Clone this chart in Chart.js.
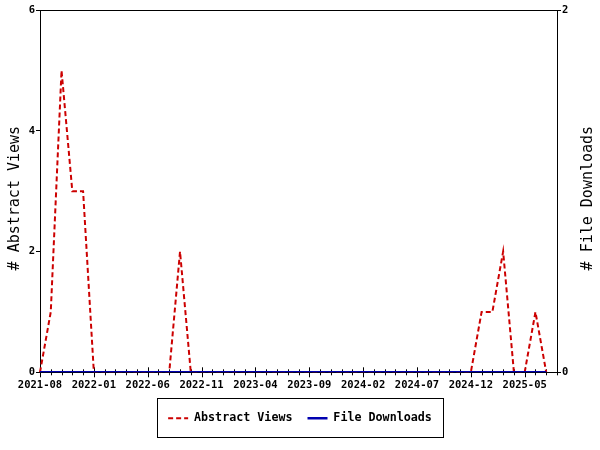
<!DOCTYPE html>
<html>
<head>
<meta charset="utf-8">
<script src="https://cdn.jsdelivr.net/npm/chart.js@4.4.0/dist/chart.umd.min.js"></script>
<style>
  html, body { margin: 0; padding: 0; background: #fff; }
  #wrap { width: 600px; height: 450px; }
</style>
</head>
<body>
<div id="wrap"><canvas id="chart" width="600" height="450"></canvas></div>
<script>
// monthly buckets, 2021-08 .. 2025-08 (axis end)
const months = [
  '2021-08', '2021-09', '2021-10', '2021-11', '2021-12',
  '2022-01', '2022-02', '2022-03', '2022-04', '2022-05',
  '2022-06', '2022-07', '2022-08', '2022-09', '2022-10',
  '2022-11', '2022-12', '2023-01', '2023-02', '2023-03',
  '2023-04', '2023-05', '2023-06', '2023-07', '2023-08',
  '2023-09', '2023-10', '2023-11', '2023-12', '2024-01',
  '2024-02', '2024-03', '2024-04', '2024-05', '2024-06',
  '2024-07', '2024-08', '2024-09', '2024-10', '2024-11',
  '2024-12', '2025-01', '2025-02', '2025-03', '2025-04',
  '2025-05', '2025-06', '2025-07', '2025-08'
];
const tickLabels = ['2021-08', '2022-01', '2022-06', '2022-11', '2023-04',
  '2023-09', '2024-02', '2024-07', '2024-12', '2025-05'];

const abstractViews = [
  0, 1, 5, 3, 3,
  0, 0, 0, 0, 0,
  0, 0, 0, 2, 0,
  0, 0, 0, 0, 0,
  0, 0, 0, 0, 0,
  0, 0, 0, 0, 0,
  0, 0, 0, 0, 0,
  0, 0, 0, 0, 0,
  0, 1, 1, 2, 0,
  0, 1, 0
];
const fileDownloads = [
  0, 0, 0, 0, 0,
  0, 0, 0, 0, 0,
  0, 0, 0, 0, 0,
  0, 0, 0, 0, 0,
  0, 0, 0, 0, 0,
  0, 0, 0, 0, 0,
  0, 0, 0, 0, 0,
  0, 0, 0, 0, 0,
  0, 0, 0, 0, 0,
  0, 0, 0
];
const leftTitle = '# Abstract Views';
const rightTitle = '# File Downloads';

const MONO = '"DejaVu Sans Mono", "Liberation Mono", monospace';
const RED = '#cc0000';
const BLUE = '#0000b0';

// frame, crossing x ticks, rotated titles and the box round the legend
const framePlugin = {
  id: 'frame',
  beforeDatasetsDraw(chart) {
    const { ctx, chartArea: a } = chart;
    const x = chart.scales.x;
    ctx.save();
    ctx.strokeStyle = '#000';
    ctx.lineWidth = 1;
    ctx.strokeRect(Math.round(a.left) + 0.5, Math.round(a.top) + 0.5,
      Math.round(a.right - a.left), Math.round(a.bottom - a.top));
    ctx.beginPath();
    months.forEach((m, i) => {
      const px = Math.round(x.getPixelForValue(i)) + 0.5;
      const len = tickLabels.includes(m) ? 5 : 3;
      ctx.moveTo(px, a.bottom - len);
      ctx.lineTo(px, a.bottom + len);
    });
    ctx.stroke();
    ctx.restore();
  },
  afterDraw(chart) {
    const { ctx, chartArea: a } = chart;
    const cy = (a.top + a.bottom) / 2 + 7;
    [[15, leftTitle], [588, rightTitle]].forEach(([tx, text]) => {
      ctx.save();
      ctx.fillStyle = '#000';
      ctx.font = '15px ' + MONO;
      ctx.textAlign = 'center';
      ctx.textBaseline = 'middle';
      ctx.translate(tx, cy);
      ctx.rotate(-Math.PI / 2);
      ctx.fillText(text, 0, 0);
      ctx.restore();
    });

    const boxes = chart.legend.legendHitBoxes;
    if (boxes && boxes.length) {
      const l = Math.min(...boxes.map(b => b.left)) - 11;
      const r = Math.max(...boxes.map(b => b.left + b.width)) + 11;
      const t = Math.min(...boxes.map(b => b.top));
      const bt = Math.max(...boxes.map(b => b.top + b.height));
      const mid = (t + bt) / 2;
      ctx.save();
      ctx.strokeStyle = '#000';
      ctx.lineWidth = 1;
      ctx.strokeRect(Math.round(l) + 0.5, Math.round(mid - 20) + 0.5, Math.round(r - l), 39);
      ctx.restore();
    }
  }
};

new Chart(document.getElementById('chart'), {
  type: 'line',
  data: {
    labels: months,
    datasets: [
      {
        label: 'Abstract Views',
        data: abstractViews,
        yAxisID: 'y',
        borderColor: RED,
        backgroundColor: RED,
        borderWidth: 2,
        borderDash: [5, 3],
        pointRadius: 0,
        tension: 0,
        order: 1
      },
      {
        label: 'File Downloads',
        data: fileDownloads,
        yAxisID: 'y1',
        borderColor: BLUE,
        backgroundColor: BLUE,
        borderWidth: 2.5,
        pointRadius: 0,
        tension: 0,
        order: 0
      }
    ]
  },
  options: {
    responsive: false,
    animation: false,
    layout: { padding: { top: 10, bottom: 16, left: 0, right: 0 } },
    plugins: {
      tooltip: { enabled: false },
      legend: {
        position: 'bottom',
        labels: {
          usePointStyle: true,
          pointStyle: 'line',
          pointStyleWidth: 20,
          padding: 15,
          color: '#000',
          font: { family: MONO, size: 11.7, weight: 'bold' },
          sort: (a, b) => a.datasetIndex - b.datasetIndex,
          generateLabels(chart) {
            const items = Chart.defaults.plugins.legend.labels.generateLabels(chart);
            items.forEach(it => {
              const ds = chart.data.datasets[it.datasetIndex];
              it.lineDash = ds.borderDash || [];
              it.lineWidth = ds.borderWidth;
              it.strokeStyle = ds.borderColor;
            });
            return items;
          }
        }
      }
    },
    scales: {
      x: {
        type: 'category',
        offset: false,
        grid: { display: false, drawTicks: false },
        border: { display: false },
        ticks: {
          autoSkip: false,
          maxRotation: 0,
          padding: 7,
          color: '#000',
          font: { family: MONO, size: 10.5, weight: 'bold' },
          callback(val) {
            const m = this.getLabelForValue(val);
            return tickLabels.includes(m) ? m : '';
          }
        },
        afterFit(scale) { scale.height = 25; }
      },
      y: {
        position: 'left',
        min: 0,
        max: 6,
        grid: { drawOnChartArea: false, tickLength: 4, color: '#000' },
        border: { display: false },
        ticks: {
          stepSize: 2,
          padding: 1,
          color: '#000',
          font: { family: MONO, size: 10.5, weight: 'bold' }
        },
        afterFit(scale) { scale.width = 40; }
      },
      y1: {
        position: 'right',
        min: 0,
        max: 2,
        grid: { drawOnChartArea: false, tickLength: 4, color: '#000' },
        border: { display: false },
        ticks: {
          stepSize: 2,
          padding: 1,
          color: '#000',
          font: { family: MONO, size: 10.5, weight: 'bold' }
        },
        afterFit(scale) { scale.width = 43; }
      }
    }
  },
  plugins: [framePlugin]
});
</script>
</body>
</html>
